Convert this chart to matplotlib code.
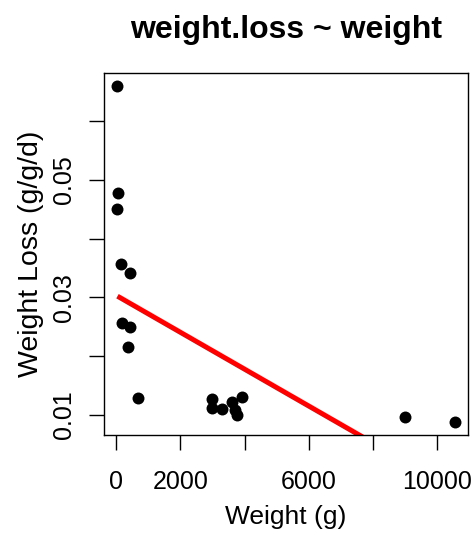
import matplotlib
matplotlib.use("Agg")
import matplotlib.pyplot as plt
import numpy as np

plt.rcParams['font.family'] = ['Liberation Sans', 'DejaVu Sans']

# values
weight = [41, 63, 41, 166, 429, 178, 439, 376, 680,
          3000, 2987, 3282, 3596, 3699, 3752, 3928,
          8997, 10542]
weight_loss = [0.0659, 0.0477, 0.0451, 0.0357, 0.0342, 0.0256, 0.0250, 0.0215, 0.0129,
               0.01267, 0.01124, 0.01102, 0.01227, 0.01085, 0.0100, 0.01312,
               0.0096, 0.00886]

# fitted line (intercept, slope)
fit_coef = [0.03033, -3.137e-6]

x_ticks = [0, 2000, 4000, 6000, 8000, 10000]
x_labels = ['0', '2000', '', '6000', '', '10000']
y_ticks = [0.01, 0.02, 0.03, 0.04, 0.05, 0.06]
y_labels = ['0.01', '', '0.03', '', '0.05', '']

fig = plt.figure(figsize=(4.76, 5.35), dpi=100)
ax = fig.add_axes([104/476, 1-435/535, (468-104)/476, (435-73)/535])

ax.scatter(weight, weight_loss, s=8.6**2, color='black', linewidths=0, zorder=3)

xs = np.array([min(weight), max(weight)])
ax.plot(xs, fit_coef[0] + fit_coef[1]*xs, color='#ff0000', lw=3.6, solid_capstyle='butt', zorder=2)

# R style 4% padding
def pad(v):
    r = max(v) - min(v)
    return min(v) - 0.04*r, max(v) + 0.04*r

ax.set_xlim(*pad(weight))
ax.set_ylim(*pad(weight_loss))

ax.set_xticks(x_ticks)
ax.set_xticklabels(x_labels)
ax.set_yticks(y_ticks)
ax.set_yticklabels(y_labels, rotation=90, va='center')

ax.tick_params(axis='both', length=11, width=1, labelsize=18, direction='out')
ax.tick_params(axis='x', pad=14)
ax.tick_params(axis='y', pad=9)
for s in ax.spines.values():
    s.set_linewidth(1)

ax.set_xlabel('Weight (g)', fontsize=19, labelpad=8)
ax.set_ylabel('Weight Loss (g/g/d)', fontsize=20.5, labelpad=6)
ax.set_title('weight.loss ~ weight', fontsize=23, fontweight='bold', pad=25)

fig.savefig('out.png', dpi=100)
